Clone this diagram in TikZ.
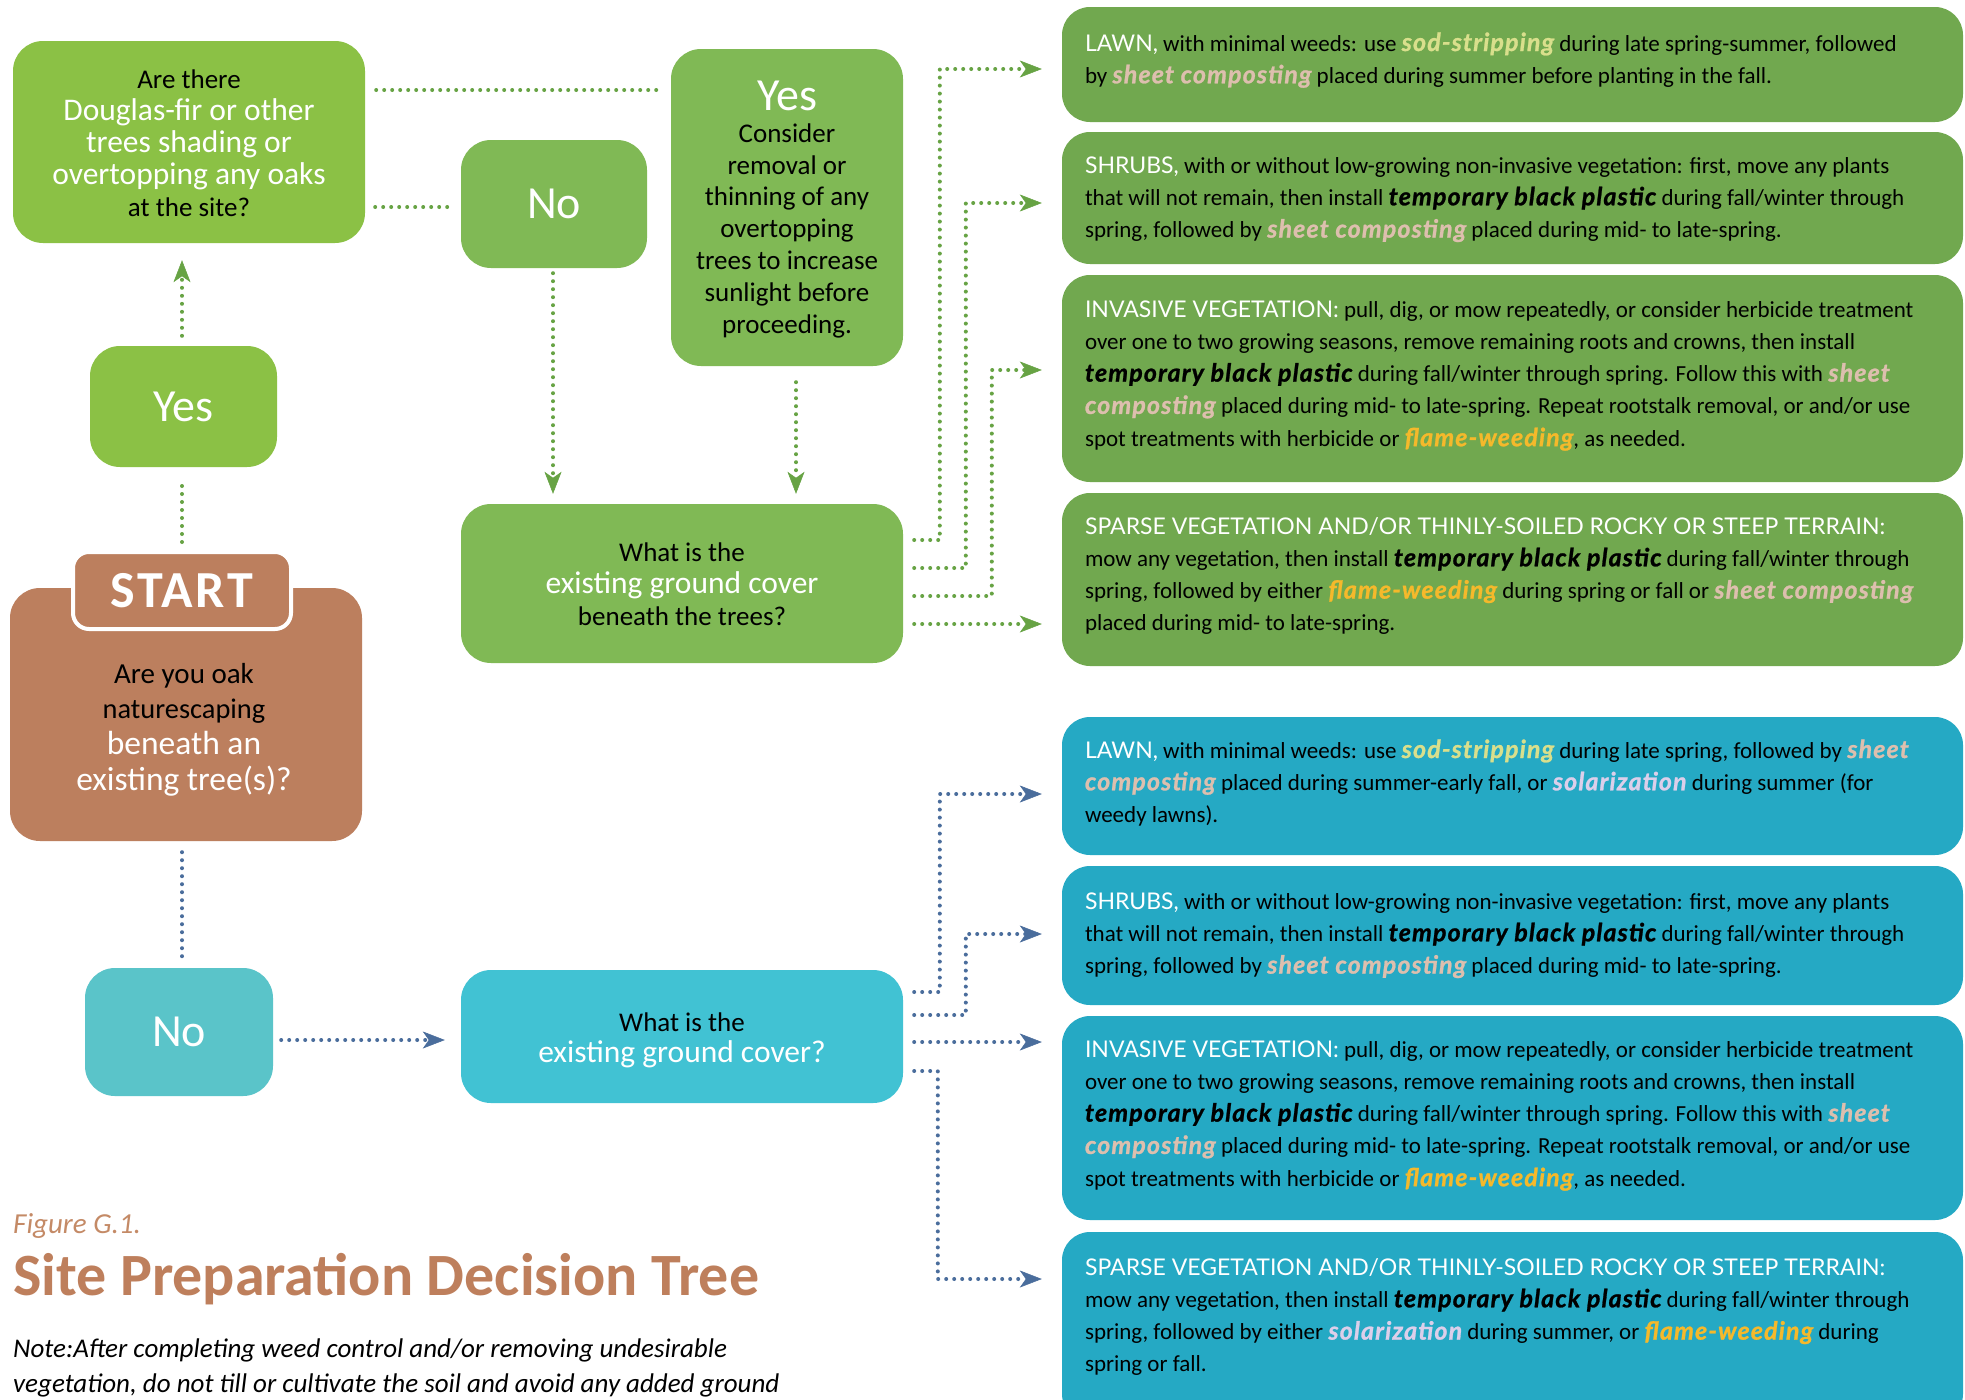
\documentclass[tikz,border=0pt]{standalone}
\usepackage{fontspec}
\setmainfont{Carlito}
\newfontfamily\latofont{Lato}
\newfontfamily\hlfont{Lato}[LetterSpace=4.5, BoldItalicFeatures={FakeBold=1}]
\newfontfamily\startfont{Carlito}[LetterSpace=5]
\usetikzlibrary{arrows.meta,calc}
\definecolor{gLight}{HTML}{8BC145}
\definecolor{gMid}{HTML}{80B955}
\definecolor{gDark}{HTML}{71A84F}
\definecolor{brownB}{HTML}{BC7F5E}
\definecolor{tNo}{HTML}{5AC4C9}
\definecolor{tMid}{HTML}{41C2D3}
\definecolor{tDark}{HTML}{25A9C4}
\definecolor{gLine}{HTML}{67A344}
\definecolor{bLine}{HTML}{4A6D9C}
\definecolor{sodC}{HTML}{D9DF8C}
\definecolor{sheetC}{HTML}{DDBFAE}
\definecolor{flameC}{HTML}{F5B92B}
\definecolor{solC}{HTML}{DCCFEA}
\definecolor{titleC}{HTML}{BE7F5C}
\definecolor{figC}{HTML}{C48A66}
\newcommand{\nolsl}{\lineskiplimit -40pt\relax}
\newcommand{\hd}[1]{{\latofont\textcolor{white}{#1}}}
\newcommand{\hlt}[2]{{\hlfont\fontsize{25}{32.3}\selectfont\bfseries\itshape\textcolor{#1}{#2}}}
\newcommand{\bw}[1]{\textcolor{white}{\fontsize{31.5}{31.8}\selectfont #1}}
\newcommand{\bwb}[1]{\textcolor{white}{\fontsize{33.5}{35.7}\selectfont #1}}
\newcommand{\boxfont}{\fontsize{27}{31.8}\selectfont\nolsl}
\newcommand{\rfont}{\fontsize{23}{32.3}\selectfont\nolsl}
\newcommand{\brfont}{\fontsize{29}{35.7}\selectfont\nolsl}
\tikzset{
  box/.style={rounded corners=30pt, inner sep=0pt, align=center,
    font=\boxfont, text=black},
  bigword/.style={box, font=\fontsize{46}{50}\selectfont, text=white},
  rbox/.style={rounded corners=28pt, inner sep=0pt, minimum width=901pt},
  rtxt/.style={anchor=north west, inner sep=0pt, align=left,
    font=\rfont, text=black},
  gdot/.style={draw=gLine, line width=4pt, line cap=round, dash pattern=on 0pt off 8pt},
  bdot/.style={draw=bLine, line width=4pt, line cap=round, dash pattern=on 0pt off 8pt},
  tipg/.style={-{Stealth[length=22pt,width=17pt,inset=6pt,line width=0.5pt]}},
}
\begin{document}
\begin{tikzpicture}[x=1pt,y=-1pt]
\useasboundingbox (0,0) rectangle (1965,1400);
\fill[white] (0,0) rectangle (1965,1400);

% ---------- left column ----------
\node[box, fill=gLight, minimum width=352pt, minimum height=202pt] (q1) at (189,142)
  {\rule{0pt}{30.7pt}Are there\\ \bw{Douglas-fir or other}\\ \bw{trees shading or}\\
   \bw{overtopping any oaks}\\ \strut at the site?};
\node[bigword, fill=gLight, minimum width=187pt, minimum height=121pt] (yesL) at (183.5,406.5) {Yes};
\node[box, fill=brownB, minimum width=352pt, minimum height=253pt] (startB) at (186,714.5) {};
\node[box, fill=brownB, draw=white, line width=4pt, rounded corners=16pt,
  minimum width=218pt, minimum height=77pt, text=white,
  font=\startfont\fontsize{52}{56}\selectfont\bfseries] (startT) at (182,590.5) {START};
\node[anchor=north, inner sep=0pt, align=center, font=\brfont] (startQ) at (184,658)
  {\strut Are you oak\\ \fontsize{28.4}{35.7}\selectfont\strut naturescaping\\ \bwb{beneath an}\\ \bwb{existing tree(s)?}};
\node[bigword, fill=tNo, minimum width=188pt, minimum height=128pt] (noT) at (179,1032) {No};

% ---------- middle column ----------
\node[bigword, fill=gMid, minimum width=186pt, minimum height=128pt] (noG) at (554,204) {No};
\node[box, fill=gMid, minimum width=232pt, minimum height=317pt] (yesC) at (787,207.5)
  {\rule{0pt}{38pt}\textcolor{white}{\fontsize{46}{31.8}\selectfont Yes}\\ \strut Consider\\ \strut removal or\\
   \strut thinning of any\\ \strut overtopping\\ \strut trees to increase\\
   \strut sunlight before\\ \strut proceeding.};
\node[box, fill=gMid, minimum width=442pt, minimum height=159pt] (gcG) at (682,583.5)
  {\rule{0pt}{30.1pt}What is the\\ \bw{existing ground cover}\\ \strut beneath the trees?};
\node[box, fill=tMid, minimum width=442pt, minimum height=133pt] (gcT) at (682,1036.5)
  {\rule{0pt}{30.3pt}What is the\\ \bw{existing ground cover?}\rule[-9.5pt]{0pt}{9.5pt}};

% ---------- right boxes ----------
\node[rbox, fill=gDark, minimum height=115pt] (gLawn) at (1512.5,64.5) {};
\node[rbox, fill=gDark, minimum height=132pt] (gShrub) at (1512.5,198) {};
\node[rbox, fill=gDark, minimum height=207pt] (gInv) at (1512.5,378.5) {};
\node[rbox, fill=gDark, minimum height=173pt] (gSparse) at (1512.5,579.5) {};
\node[rbox, fill=tDark, minimum height=138pt] (tLawn) at (1512.5,786) {};
\node[rbox, fill=tDark, minimum height=139pt] (tShrub) at (1512.5,935.5) {};
\node[rbox, fill=tDark, minimum height=204pt] (tInv) at (1512.5,1118) {};
\node[rbox, fill=tDark, minimum height=190pt] (tSparse) at (1512.5,1327) {};

\node[rtxt] (gLawnT) at ($(gLawn.north west)+(23,21.4)$)
  {\strut\hd{LAWN,} with minimal weeds: use \hlt{sodC}{sod-stripping} during late spring-summer, followed\\
   by \hlt{sheetC}{sheet composting} placed during summer before planting in the fall.};
\node[rtxt] (gShrubT) at ($(gShrub.north west)+(23,18.4)$)
  {\strut\hd{SHRUBS,} with or without low-growing non-invasive vegetation: first, move any plants\\
   that will not remain, then install \hlt{black}{temporary black plastic} during fall/winter through\\
   spring, followed by \hlt{sheetC}{sheet composting} placed during mid- to late-spring.};
\node[rtxt] (gInvT) at ($(gInv.north west)+(23,19.4)$)
  {\strut\hd{INVASIVE VEGETATION:} pull, dig, or mow repeatedly, or consider herbicide treatment\\
   over one to two growing seasons, remove remaining roots and crowns, then install\\
   \hlt{black}{temporary black plastic} during fall/winter through spring. Follow this with \hlt{sheetC}{sheet}\\
   \hlt{sheetC}{composting} placed during mid- to late-spring. Repeat rootstalk removal, or and/or use\\
   spot treatments with herbicide or \hlt{flameC}{flame-weeding}, as needed.};
\node[rtxt] (gSparseT) at ($(gSparse.north west)+(23,18.4)$)
  {\strut\hd{SPARSE VEGETATION AND/OR THINLY-SOILED ROCKY OR STEEP TERRAIN:}\\
   mow any vegetation, then install \hlt{black}{temporary black plastic} during fall/winter through\\
   spring, followed by either \hlt{flameC}{flame-weeding} during spring or fall or \hlt{sheetC}{sheet composting}\\
   placed during mid- to late-spring.};
\node[rtxt] (tLawnT) at ($(tLawn.north west)+(23,18.4)$)
  {\strut\hd{LAWN,} with minimal weeds: use \hlt{sodC}{sod-stripping} during late spring, followed by \hlt{sheetC}{sheet}\\
   \hlt{sheetC}{composting} placed during summer-early fall, or \hlt{solC}{solarization} during summer (for\\
   weedy lawns).};
\node[rtxt] (tShrubT) at ($(tShrub.north west)+(23,20.4)$)
  {\strut\hd{SHRUBS,} with or without low-growing non-invasive vegetation: first, move any plants\\
   that will not remain, then install \hlt{black}{temporary black plastic} during fall/winter through\\
   spring, followed by \hlt{sheetC}{sheet composting} placed during mid- to late-spring.};
\node[rtxt] (tInvT) at ($(tInv.north west)+(23,18.4)$)
  {\strut\hd{INVASIVE VEGETATION:} pull, dig, or mow repeatedly, or consider herbicide treatment\\
   over one to two growing seasons, remove remaining roots and crowns, then install\\
   \hlt{black}{temporary black plastic} during fall/winter through spring. Follow this with \hlt{sheetC}{sheet}\\
   \hlt{sheetC}{composting} placed during mid- to late-spring. Repeat rootstalk removal, or and/or use\\
   spot treatments with herbicide or \hlt{flameC}{flame-weeding}, as needed.};
\node[rtxt] (tSparseT) at ($(tSparse.north west)+(23,20.4)$)
  {\strut\hd{SPARSE VEGETATION AND/OR THINLY-SOILED ROCKY OR STEEP TERRAIN:}\\
   mow any vegetation, then install \hlt{black}{temporary black plastic} during fall/winter through\\
   spring, followed by either \hlt{solC}{solarization} during summer, or \hlt{flameC}{flame-weeding} during\\
   spring or fall.};

% ---------- title and note ----------
\node[anchor=base west, inner sep=0pt, font=\fontsize{29}{35}\selectfont\itshape, text=figC] (figLab) at (13,1233) {Figure G.1.};
\node[anchor=base west, inner sep=0pt, font=\fontsize{60}{64}\selectfont\bfseries, text=titleC] (titleT) at (13,1295) {Site Preparation Decision Tree};
\node[anchor=north west, inner sep=0pt, align=left, font=\fontsize{27}{35}\selectfont\itshape] (noteT) at (13,1332.5)
  {\strut Note:After completing weed control and/or removing undesirable\\
   vegetation, do not till or cultivate the soil and avoid any added ground};

% ---------- connectors (left / middle) ----------
\draw[gdot] ($(startT.north)+(0,-8)$) -- ($(yesL.south)+(-1.5,12)$);
\draw[gdot, tipg] ($(yesL.north)+(-1.5,-10)$) -- ($(q1.south)+(-7,17)$);
\draw[gdot] ($(q1.east)+(11,-52)$) -- ($(yesC.west)+(-10,-117.5)$);
\draw[gdot] ($(q1.east)+(10,65)$) -- ($(noG.west)+(-8,3)$);
\draw[gdot, tipg] ($(noG.south)+(-1,5)$) -- ($(gcG.north)+(-129,-10)$);
\draw[gdot, tipg] ($(yesC.south)+(9,16)$) -- ($(gcG.north)+(114,-10)$);
\draw[bdot] ($(startB.south)+(-4,11)$) -- ($(noT.north)+(3,-10)$);
\draw[bdot, tipg] ($(noT.east)+(8,8)$) -- ($(gcT.west)+(-16,3.5)$);

% ---------- connectors to right boxes (green) ----------
\draw[gdot, tipg] ($(gcG.east)+(11,-43.5)$) -| ($(gLawn.west)+(-122,4.5)$) -- ($(gLawn.west)+(-20,4.5)$);
\draw[gdot, tipg] ($(gcG.east)+(11,-15.5)$) -| ($(gShrub.west)+(-96,5)$) -- ($(gShrub.west)+(-20,5)$);
\draw[gdot, tipg] ($(gcG.east)+(11,12.5)$) -| ($(gInv.west)+(-70,-8.5)$) -- ($(gInv.west)+(-20,-8.5)$);
\draw[gdot, tipg] ($(gcG.east)+(11,40.5)$) -- ($(gSparse.west)+(-20,44.5)$);

% ---------- connectors to right boxes (blue) ----------
\draw[bdot, tipg] ($(gcT.east)+(11,-44.5)$) -| ($(tLawn.west)+(-122,8)$) -- ($(tLawn.west)+(-20,8)$);
\draw[bdot, tipg] ($(gcT.east)+(11,-21.5)$) -| ($(tShrub.west)+(-96,-1.5)$) -- ($(tShrub.west)+(-20,-1.5)$);
\draw[bdot, tipg] ($(gcT.east)+(11,5.5)$) -- ($(tInv.west)+(-20,-76)$);
\draw[bdot, tipg] ($(gcT.east)+(11,34.5)$) -| ($(tSparse.west)+(-124,-48)$) -- ($(tSparse.west)+(-20,-48)$);
\end{tikzpicture}
\end{document}
